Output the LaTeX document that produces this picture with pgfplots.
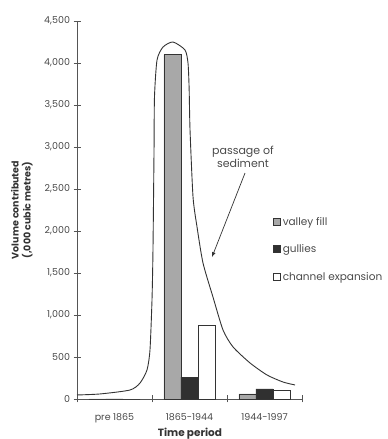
\documentclass[border=0pt]{standalone}
\usepackage{pgfplots}
\pgfplotsset{compat=1.18}
\usepackage{fontspec}
\setmainfont{Poppins}
\definecolor{txt}{HTML}{4A4A4A}
\definecolor{axc}{HTML}{555555}
\definecolor{vf}{HTML}{A8A8A8}
\definecolor{gu}{HTML}{303030}
\definecolor{ln}{HTML}{333333}
\begin{document}
\begin{tikzpicture}
\useasboundingbox (0,0) rectangle (388pt,439pt);
\begin{axis}[
  at={(77pt,40pt)}, anchor=south west,
  scale only axis, width=225pt, height=378pt,
  xmin=-0.5, xmax=2.5, ymin=0, ymax=4500,
  axis lines*=left,
  axis line style={axc, line width=0.9pt},
  xtick={-0.5,0.5,1.5,2.5},
  xticklabels={pre 1865,1865-1944,1944-1997},
  x tick label as interval,
  ytick={0,500,...,4500},
  tick align=center, major tick length=7pt,
  tick style={axc, line width=0.9pt},
  /pgf/number format/assume math mode=true,
  /pgf/number format/1000 sep={,},
  ticklabel style={font=\fontsize{9.5}{11}\selectfont, text=txt},
  xticklabel style={yshift=-7pt},
  xlabel={\bfseries Time period},
  xlabel style={at={(axis description cs:0.502,-0.092)}, anchor=center, font=\fontsize{10.5}{12}\selectfont, text=ln},
  ylabel={\bfseries Volume contributed\\\bfseries(,000 cubic metres)},
  ylabel style={at={(axis description cs:-0.245,0.5)}, anchor=center, align=center, font=\fontsize{9.5}{12}\selectfont, text=ln},
  bar width=0.227,
  legend style={at={(rel axis cs:0.87,0.487)}, anchor=north west, draw=none, fill=none,
    font=\fontsize{10.5}{12}\selectfont, text=txt, row sep=14pt, inner sep=0pt},
  legend cell align=left,
  legend image code/.code={\draw[#1, draw=ln, line width=0.8pt] (0pt,-3.5pt) rectangle (7pt,3.5pt);},
  clip=false,
]
\addplot[ybar, fill=vf, draw=ln, line width=0.8pt, bar shift=-0.227] coordinates {(0,0) (1,4100) (2,60)};
\addplot[ybar, fill=gu, draw=ln, line width=0.8pt, bar shift=0] coordinates {(0,0) (1,260) (2,120)};
\addplot[ybar, fill=white, draw=ln, line width=0.8pt, bar shift=0.227] coordinates {(0,0) (1,880) (2,100)};
\legend{valley fill, gullies, channel expansion}
\addplot[forget plot, sharp plot, smooth, tension=0.4, ln, line width=0.9pt, mark=none] coordinates {
(-0.5,48) (-0.193,60) (0.207,107) (0.34,190) (0.433,345) (0.473,583) (0.5,1179) (0.513,1774) (0.527,2964) (0.533,3595) (0.567,4036) (0.647,4190) (0.78,4250) (0.94,4155) (0.98,4000) (0.995,3700) (1.007,3202) (1.047,2405) (1.1,2050) (1.18,1619) (1.313,1214) (1.447,821) (1.58,620) (1.807,429) (2.033,286) (2.247,202) (2.407,167)};
\node[align=center, font=\fontsize{11}{12.5}\selectfont, text=txt] at (axis cs:1.713,2881) {passage of\\sediment};
\draw[-latex, ln, line width=0.7pt] (axis cs:1.74,2690) -- (axis cs:1.3,1690);
\end{axis}
\end{tikzpicture}
\end{document}
